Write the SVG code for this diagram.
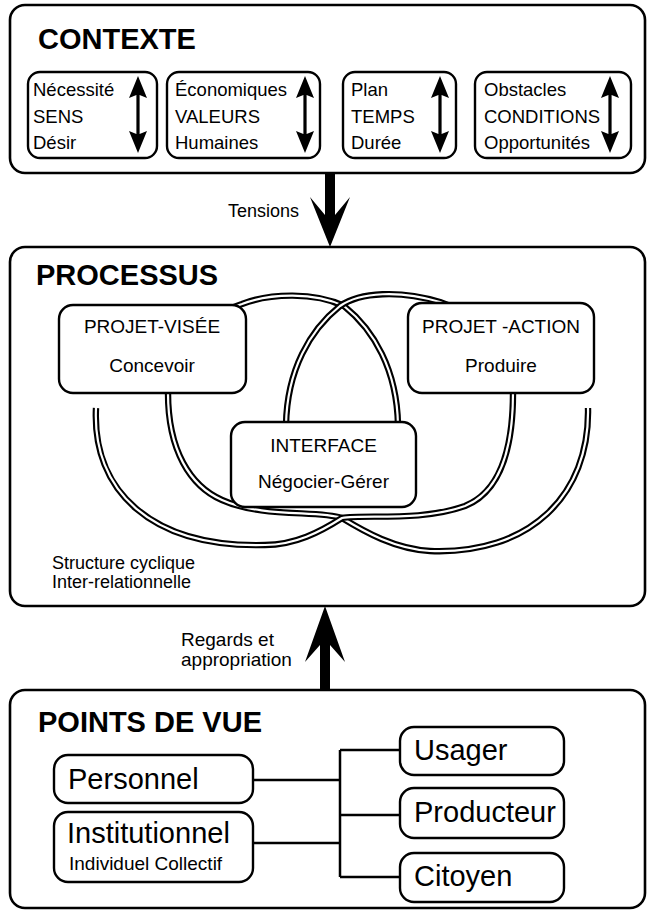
<svg xmlns="http://www.w3.org/2000/svg" width="648" height="911" viewBox="0 0 648 911">
  <style>
    .frame{fill:#fff;stroke:#000;stroke-width:2.6}
    .box{fill:#fff;stroke:#000;stroke-width:2.4}
    .wire{fill:none;stroke:#000;stroke-width:2.5}
    .rib{fill:none;stroke:#000;stroke-width:6.4}
    .gap{fill:none;stroke:#fff;stroke-width:2.2}
    text{font-family:"Liberation Sans",Arial,Helvetica,sans-serif;fill:#000}
    .title{font-size:29px;font-weight:bold}
    .ctx{font-size:18.5px}
    .lbl{font-size:19px}
    .mid{text-anchor:middle}
    .small{font-size:18px}
    .big{font-size:29px}
  </style>
  <defs>
    <!-- vertical two-way arrow, top tip at origin -->
    <path id="dbl" d="M0 0 L9 22 L1.6 19 V58 L9 55 L0 77 L-9 55 L-1.6 58 V19 L-9 22 Z" fill="#000"/>
    <!-- loop ribbons of the process cycle -->
    <path id="loopA" d="M588 408 C590 495 530 555 430 551 C395 549 365 532 342 518 C318 510 262 518 222 500 C190 486 168 450 168 393 C168 350 200 318 242 304 C270 293 315 292 344 306 C374 330 397 370 398 425 L397 445"/>
    <path id="loopB" d="M96 408 C92 490 150 548 265 545 C295 545 320 532 342 518 C365 514 420 522 465 506 C495 494 513 460 513 393 C513 350 480 316 440 302 C400 290 360 292 340 306 C310 330 287 370 286 425 L287 445"/>
  </defs>

  <rect width="648" height="911" fill="#fff"/>

  <!-- CONTEXTE -->
  <g id="contexte">
    <rect class="frame" x="10" y="5" width="635" height="168" rx="15"/>
    <text class="title" x="38" y="49">CONTEXTE</text>
    <g id="ctx-sens">
      <rect class="box" x="28" y="72" width="129" height="86" rx="12"/>
      <text class="ctx" x="33" y="96">Nécessité</text>
      <text class="ctx" x="33" y="122.5">SENS</text>
      <text class="ctx" x="33" y="149">Désir</text>
      <use href="#dbl" x="138" y="76"/>
    </g>
    <g id="ctx-valeurs">
      <rect class="box" x="167" y="72" width="153" height="86" rx="12"/>
      <text class="ctx" x="175" y="96">Économiques</text>
      <text class="ctx" x="175" y="122.5">VALEURS</text>
      <text class="ctx" x="175" y="149">Humaines</text>
      <use href="#dbl" x="305" y="76"/>
    </g>
    <g id="ctx-temps">
      <rect class="box" x="343" y="72" width="113" height="86" rx="12"/>
      <text class="ctx" x="351" y="96">Plan</text>
      <text class="ctx" x="351" y="122.5">TEMPS</text>
      <text class="ctx" x="351" y="149">Durée</text>
      <use href="#dbl" x="440" y="76"/>
    </g>
    <g id="ctx-conditions">
      <rect class="box" x="475" y="72" width="156" height="86" rx="12"/>
      <text class="ctx" x="484" y="96">Obstacles</text>
      <text class="ctx" x="484" y="122.5">CONDITIONS</text>
      <text class="ctx" x="484" y="149">Opportunités</text>
      <use href="#dbl" x="610" y="76"/>
    </g>
  </g>

  <!-- PROCESSUS -->
  <g id="processus">
    <rect class="frame" x="10" y="247" width="635" height="359" rx="15"/>
    <text class="title" x="36" y="285">PROCESSUS</text>
    <text class="small" x="52" y="569">Structure cyclique</text>
    <text class="small" x="52" y="588">Inter-relationnelle</text>
  </g>

  <!-- POINTS DE VUE -->
  <g id="points-de-vue">
    <rect class="frame" x="10" y="690" width="635" height="218" rx="15"/>
    <text class="title" x="38" y="732">POINTS DE VUE</text>
  </g>

  <!-- connectors -->
  <g id="connectors">
    <!-- cycle ribbons -->
    <use href="#loopA" class="rib"/>
    <use href="#loopA" class="gap"/>
    <use href="#loopB" class="rib"/>
    <use href="#loopB" class="gap"/>
    <!-- Tensions: context to process -->
    <path d="M325 173 H335 V215 L350 197 L330 247 L310 197 L325 215 Z" fill="#000"/>
    <text class="small" x="228" y="217">Tensions</text>
    <!-- Regards et appropriation: points of view to process -->
    <path d="M320 690 H330 V645 L345 662 L325 606 L305 662 L320 645 Z" fill="#000"/>
    <text class="lbl" x="181" y="646">Regards et</text>
    <text class="lbl" x="181" y="666">appropriation</text>
    <!-- tree between viewpoints and roles -->
    <path class="wire" d="M253 780 H340 M253 843 H340 M340 750 V877 M340 750 H400 M340 815 H400 M340 877 H400"/>
  </g>

  <!-- process nodes (drawn over the ribbons) -->
  <g id="projet-visee">
    <rect class="box" x="59" y="305" width="187" height="88" rx="14"/>
    <text class="lbl mid" x="152" y="333">PROJET-VISÉE</text>
    <text class="lbl mid" x="152" y="372">Concevoir</text>
  </g>
  <g id="projet-action">
    <rect class="box" x="408" y="303" width="186" height="90" rx="14"/>
    <text class="lbl mid" x="501" y="333">PROJET -ACTION</text>
    <text class="lbl mid" x="501" y="372">Produire</text>
  </g>
  <g id="interface">
    <rect class="box" x="231" y="422" width="185" height="85" rx="14"/>
    <text class="lbl mid" x="323.5" y="452">INTERFACE</text>
    <text class="lbl mid" x="323.5" y="488">Négocier-Gérer</text>
  </g>

  <!-- viewpoint nodes -->
  <g id="personnel">
    <rect class="box" x="54" y="755" width="199" height="48" rx="14"/>
    <text class="big" x="68" y="789">Personnel</text>
  </g>
  <g id="institutionnel">
    <rect class="box" x="54" y="812" width="199" height="70" rx="14"/>
    <text class="big" x="67" y="843">Institutionnel</text>
    <text class="lbl" x="69" y="870">Individuel Collectif</text>
  </g>
  <g id="usager">
    <rect class="box" x="400" y="727" width="164" height="48" rx="14"/>
    <text class="big" x="414" y="760">Usager</text>
  </g>
  <g id="producteur">
    <rect class="box" x="400" y="788" width="164" height="50" rx="14"/>
    <text class="big" x="414" y="822">Producteur</text>
  </g>
  <g id="citoyen">
    <rect class="box" x="400" y="853" width="164" height="49" rx="14"/>
    <text class="big" x="414" y="886">Citoyen</text>
  </g>
</svg>
